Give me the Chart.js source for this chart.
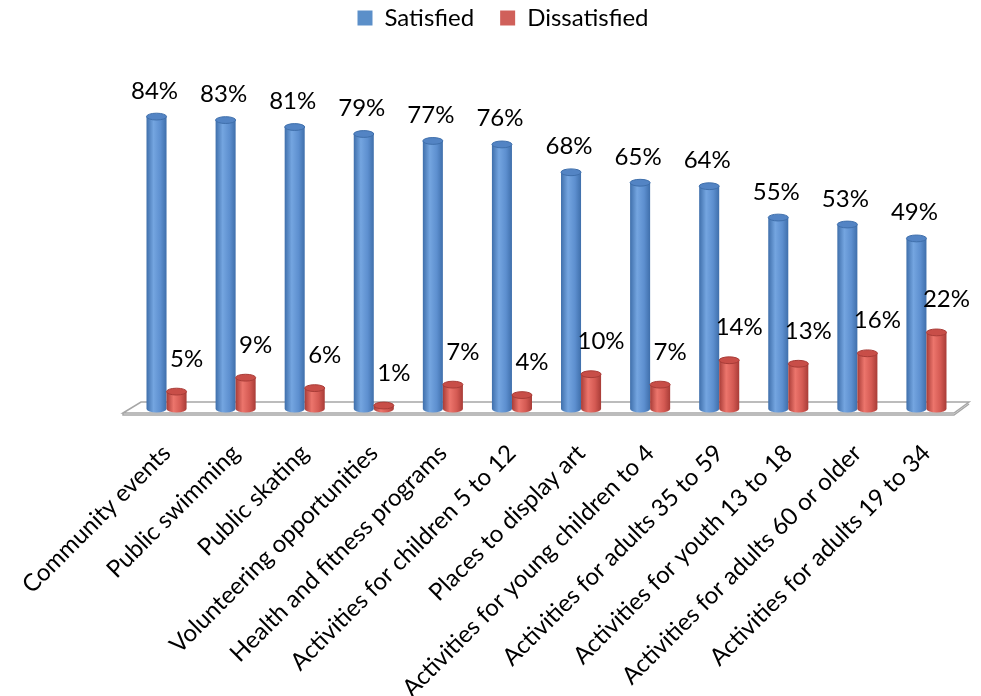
<!DOCTYPE html>
<html lang="en">
<head>
    <meta charset="UTF-8">
    <title>Satisfaction with Recreation Services</title>
    <style>
        body { margin: 0; background: #fff; }
        .wrap { width: 981px; height: 696px; }
    </style>
</head>
<body>
    <div class="wrap"><canvas id="chart"></canvas></div>
    <script src="https://cdn.jsdelivr.net/npm/chart.js"></script>
    <script>
        const categories = [
            'Community events', 'Public swimming', 'Public skating', 'Volunteering opportunities',
            'Health and fitness programs', 'Activities for children 5 to 12', 'Places to display art',
            'Activities for young children to 4', 'Activities for adults 35 to 59',
            'Activities for youth 13 to 18', 'Activities for adults 60 or older', 'Activities for adults 19 to 34'
        ];
        const satisfied = [84, 83, 81, 79, 77, 76, 68, 65, 64, 55, 53, 49];
        const dissatisfied = [5, 9, 6, 1, 7, 4, 10, 7, 14, 13, 16, 22];

        const FONT = 'Lato, "Open Sans", sans-serif';

        // colours for the cylinders: [edge, highlight, mid, cap]
        const shades = [
            ['#3f6fab', '#74a5e0', '#5d8fcf', '#5384c4'],
            ['#a83c37', '#ec756c', '#d45a53', '#c84e48']
        ];

        const cylinders = {
            id: 'cylinders',
            beforeDatasetsDraw(chart) {
                const ctx = chart.ctx;
                const x = chart.scales.x, y = chart.scales.y;
                const y0 = y.getPixelForValue(0);
                // floor slab
                ctx.save();
                ctx.beginPath();
                ctx.moveTo(x.left - 9, y0 + 4);
                ctx.lineTo(x.left + 9, y0 - 7);
                ctx.lineTo(x.right + 8, y0 - 7);
                ctx.lineTo(x.right - 7, y0 + 4);
                ctx.closePath();
                ctx.fillStyle = '#ffffff';
                ctx.fill();
                ctx.strokeStyle = '#a6a6a6';
                ctx.lineWidth = 1.5;
                ctx.stroke();
                ctx.beginPath();
                ctx.moveTo(x.left - 9, y0 + 4);
                ctx.lineTo(x.left - 9, y0 + 6);
                ctx.lineTo(x.right - 7, y0 + 6);
                ctx.lineTo(x.right + 8, y0 - 5);
                ctx.stroke();
                ctx.restore();
            },
            afterDatasetsDraw(chart) {
                const ctx = chart.ctx;
                chart.data.datasets.forEach((ds, di) => {
                    const c = shades[di];
                    chart.getDatasetMeta(di).data.forEach((bar, i) => {
                        const rx = bar.width / 2, ry = bar.width * 0.17;
                        const top = bar.y, base = bar.base;
                        const g = ctx.createLinearGradient(bar.x - rx, 0, bar.x + rx, 0);
                        g.addColorStop(0, c[0]);
                        g.addColorStop(0.35, c[1]);
                        g.addColorStop(0.7, c[2]);
                        g.addColorStop(1, c[0]);
                        ctx.save();
                        ctx.beginPath();
                        ctx.moveTo(bar.x - rx, top);
                        ctx.lineTo(bar.x - rx, base);
                        ctx.ellipse(bar.x, base, rx, ry, 0, Math.PI, 0, true);
                        ctx.lineTo(bar.x + rx, top);
                        ctx.closePath();
                        ctx.fillStyle = g;
                        ctx.fill();
                        ctx.beginPath();
                        ctx.ellipse(bar.x, top, rx, ry, 0, 0, Math.PI * 2);
                        ctx.fillStyle = c[3];
                        ctx.fill();
                        ctx.strokeStyle = c[0];
                        ctx.lineWidth = 1;
                        ctx.stroke();
                        // value label
                        ctx.fillStyle = '#000';
                        ctx.font = '24px ' + FONT;
                        ctx.textAlign = 'center';
                        ctx.textBaseline = 'alphabetic';
                        const dx = di === 0 ? -2 : 10;
                        const dy = di === 0 ? 18 : 25;
                        ctx.fillText(ds.data[i] + '%', bar.x + dx, top - dy);
                        ctx.restore();
                    });
                });
            }
        };

        new Chart(document.getElementById('chart').getContext('2d'), {
            type: 'bar',
            data: {
                labels: categories,
                datasets: [
                    { label: 'Satisfied', data: satisfied, backgroundColor: 'rgba(0,0,0,0)', borderWidth: 0 },
                    { label: 'Dissatisfied', data: dissatisfied, backgroundColor: 'rgba(0,0,0,0)', borderWidth: 0 }
                ]
            },
            options: {
                responsive: true,
                maintainAspectRatio: false,
                animation: false,
                layout: { padding: { left: 45, right: 20, top: -20, bottom: 0 } },
                datasets: { bar: { categoryPercentage: 0.58, barPercentage: 1 } },
                plugins: {
                    legend: {
                        position: 'top',
                        labels: {
                            font: { family: FONT, size: 24 },
                            color: '#000',
                            boxWidth: 15,
                            boxHeight: 15,
                            padding: 26,
                            generateLabels: (chart) => chart.data.datasets.map((d, i) => ({
                                text: d.label,
                                fillStyle: i === 0 ? '#5b8fc9' : '#d0605a',
                                strokeStyle: 'rgba(0,0,0,0)',
                                lineWidth: 0,
                                datasetIndex: i
                            }))
                        }
                    },
                    tooltip: { enabled: false }
                },
                scales: {
                    x: {
                        grid: { display: false },
                        border: { display: false },
                        ticks: {
                            font: { family: FONT, size: 24 },
                            color: '#000',
                            minRotation: 45,
                            maxRotation: 45,
                            padding: 22,
                            autoSkip: false
                        },
                        afterFit: (scale) => { scale.height = 287; scale.paddingLeft = 132; }
                    },
                    y: {
                        display: false,
                        min: 0,
                        max: 106
                    }
                }
            },
            plugins: [cylinders]
        });
    </script>
</body>
</html>
